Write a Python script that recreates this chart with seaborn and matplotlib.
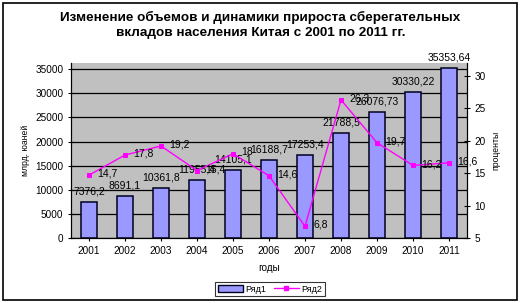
import matplotlib
matplotlib.use("Agg")
import matplotlib.pyplot as plt
import seaborn as sns
import numpy as np
import pandas as pd
from matplotlib.patches import Rectangle
from matplotlib.lines import Line2D

years = ["2001", "2002", "2003", "2004", "2005", "2006", "2007", "2008", "2009", "2010", "2011"]
deposits = [7376.2, 8691.1, 10361.8, 11955.4, 14105.1, 16188.7, 17253.4, 21788.5, 26076.73, 30330.22, 35353.64]
growth = [14.7, 17.8, 19.2, 15.4, 18.0, 14.6, 6.8, 26.3, 19.7, 16.2, 16.6]
left_ticks = [0, 5000, 10000, 15000, 20000, 25000, 30000, 35000]
right_ticks = [5, 10, 15, 20, 25, 30]

title = "Изменение объемов и динамики прироста сберегательных\nвкладов населения Китая с 2001 по 2011 гг."
xlabel = "годы"
ylabel_left = "млрд. юаней"
ylabel_right = "проценты"
series_names = ["Ряд1", "Ряд2"]

sns.set_theme(style="white")
plt.rcParams["font.family"] = ["Liberation Sans", "DejaVu Sans"]
plt.rcParams["text.color"] = "black"
plt.rcParams["axes.labelcolor"] = "black"
plt.rcParams["xtick.color"] = "black"
plt.rcParams["ytick.color"] = "black"

def fmt(v):
    s = ("%.2f" % v).rstrip("0").rstrip(".")
    return s.replace(".", ",")

df = pd.DataFrame({"year": years, "deposits": deposits, "growth": growth})

fig = plt.figure(figsize=(5.21, 3.03), dpi=100)
ax = fig.add_axes([71 / 521, 1 - 238 / 303, (467 - 71) / 521, (238 - 63) / 303])
ax.set_facecolor("#C0C0C0")

sns.barplot(data=df, x="year", y="deposits", ax=ax, color="#9999FF",
            width=0.42, edgecolor="#000020", linewidth=1.1, saturation=1, zorder=3)
ax.set_ylim(0, 36300)
ax.set_xlim(-0.5, 10.5)
ax.set_yticks(left_ticks)
ax.set_yticklabels([str(t) for t in left_ticks])
ax.yaxis.grid(True, color="black", linewidth=0.9, zorder=0)
ax.set_axisbelow(True)
ax.tick_params(axis="both", which="both", direction="inout", length=5, width=0.8, colors="black",
               labelsize=7.2, pad=3, left=True, bottom=True)
for sp in ax.spines.values():
    sp.set_color("black")
    sp.set_linewidth(0.8)
ax.spines["top"].set_visible(False)
ax.set_xlabel(xlabel, fontsize=7.2, labelpad=5)
ax.set_ylabel(ylabel_left, fontsize=6.2, labelpad=4)

for i, v in enumerate(deposits):
    ax.annotate(fmt(v), (i, v), xytext=(0, 4), textcoords="offset points",
                ha="center", va="bottom", fontsize=7.5, color="black", annotation_clip=False, zorder=6)

ax2 = ax.twinx()
x_pos = np.arange(len(years))
sns.lineplot(x=x_pos, y=growth, ax=ax2, color="#FF00FF", linewidth=1.0, marker="s",
             markersize=3.2, markeredgecolor="#FF00FF", zorder=5)
ax2.set_ylim(5, 32)
ax2.set_xlim(-0.5, 10.5)
ax2.set_yticks(right_ticks)
ax2.set_yticklabels([str(t) for t in right_ticks])
ax2.tick_params(axis="y", direction="inout", length=5, width=0.8, colors="black", labelsize=7.2, pad=3, right=True)
for sp in ax2.spines.values():
    sp.set_color("black")
    sp.set_linewidth(0.8)
ax2.spines["top"].set_visible(False)
ax2.set_ylabel(ylabel_right, fontsize=6.2, labelpad=4)
ax2.grid(False)

for i, v in enumerate(growth):
    ax2.annotate(fmt(v), (i, v), xytext=(6, 1), textcoords="offset points",
                 ha="left", va="center", fontsize=7.5, color="black", annotation_clip=False, zorder=7)

fig.text(0.5, 1 - 25 / 303, title, ha="center", va="center", fontsize=9.7, fontweight="bold",
         linespacing=1.3, color="black")

handles = [Rectangle((0, 0), 1, 1, facecolor="#9999FF", edgecolor="#000020", linewidth=1.0),
           Line2D([0], [0], color="#FF00FF", marker="s", markersize=3, linewidth=1.0)]
leg = fig.legend(handles, series_names, loc="center", bbox_to_anchor=(270 / 521, 1 - 289 / 303),
                 ncol=2, fontsize=6.5, frameon=True, fancybox=False, edgecolor="black",
                 handlelength=2.8, handleheight=0.8, columnspacing=0.8, handletextpad=0.3,
                 borderpad=0.3, borderaxespad=0)
leg.get_frame().set_linewidth(0.8)

fig.patches.append(Rectangle((3 / 521, 3 / 303), 514 / 521, 297 / 303, transform=fig.transFigure,
                             fill=False, edgecolor="black", linewidth=1.2))

fig.savefig("out.png", dpi=100)
